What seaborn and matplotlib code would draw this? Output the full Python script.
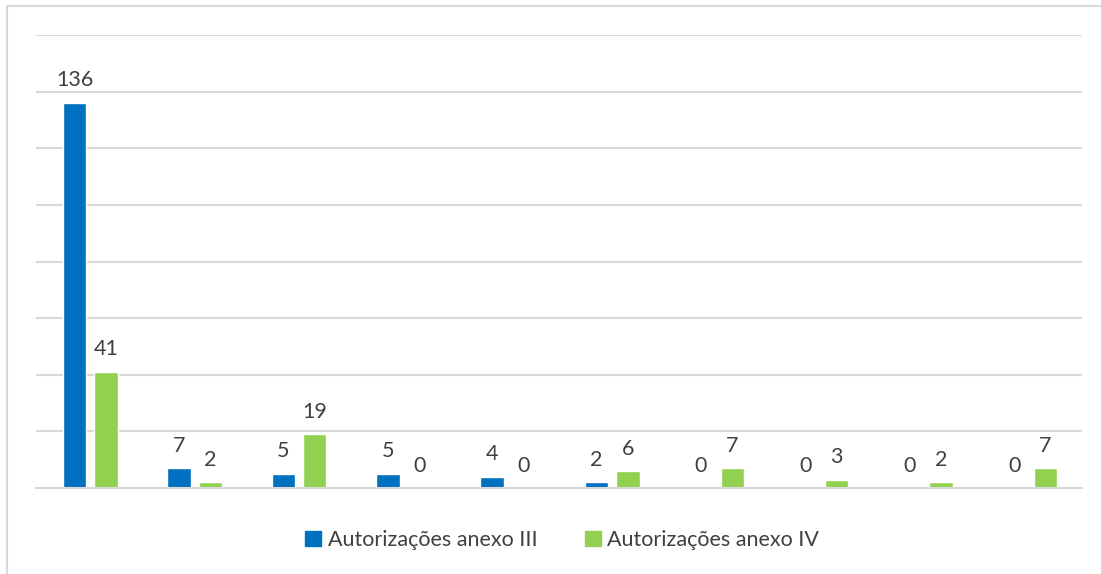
import pandas as pd
import seaborn as sns
import matplotlib.pyplot as plt
from matplotlib.patches import Rectangle

categories = ["c1", "c2", "c3", "c4", "c5", "c6", "c7", "c8", "c9", "c10"]
anexo_iii = [136, 7, 5, 5, 4, 2, 0, 0, 0, 0]
anexo_iv = [41, 2, 19, 0, 0, 6, 7, 3, 2, 7]
series_names = ["Autorizações anexo III", "Autorizações anexo IV"]

df = pd.DataFrame({
    "categoria": categories * 2,
    "valor": anexo_iii + anexo_iv,
    "serie": [series_names[0]] * len(categories) + [series_names[1]] * len(categories),
})

sns.set_style("white")
plt.rcParams['font.family'] = ['Lato', 'DejaVu Sans']

fig = plt.figure(figsize=(11.01, 5.74), dpi=100)
ax = fig.add_axes([36 / 1101, 1 - 488 / 574, (1082 - 36) / 1101, (488 - 35) / 574])

palette = {series_names[0]: "#0070C0", series_names[1]: "#92D050"}
sns.barplot(data=df, x="categoria", y="valor", hue="serie", palette=palette,
            width=0.6, gap=0.25, saturation=1, ax=ax, legend=False)

for cont in ax.containers:
    ax.bar_label(cont, padding=9, fontsize=15.5, color="#404040")

ax.set_ylim(0, 160)
ax.set_xlim(-0.52, 9.5)
ax.set_yticks(range(0, 161, 20))
ax.yaxis.grid(True, color="#d9d9d9", linewidth=1.5)
ax.set_axisbelow(True)
ax.set_xticks([])
ax.set_yticklabels([])
ax.tick_params(left=False, bottom=False)
ax.set_xlabel("")
ax.set_ylabel("")
for s in ["top", "right", "left"]:
    ax.spines[s].set_visible(False)
ax.spines["bottom"].set_color("#d9d9d9")
ax.spines["bottom"].set_linewidth(1.5)

handles = [Rectangle((0, 0), 1, 1, color=palette[n]) for n in series_names]
fig.legend(handles, series_names, loc="center", bbox_to_anchor=(562 / 1101, 1 - 540 / 574),
           ncol=2, frameon=False, fontsize=15.5, labelcolor="#404040",
           handlelength=0.75, handleheight=0.75, handletextpad=0.3, columnspacing=2.2)

fig.patches.append(Rectangle((7 / 1101, -0.1), 1.2, 1.1 - 6 / 574, transform=fig.transFigure,
                             fill=False, edgecolor="#d9d9d9", linewidth=1.5))

fig.savefig("out.png", dpi=100)
